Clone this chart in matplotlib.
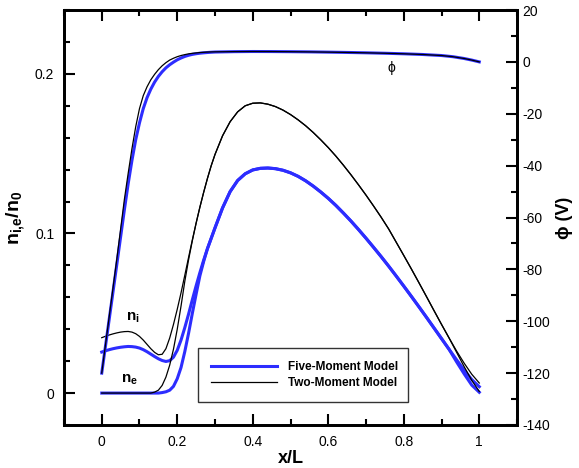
import numpy as np
import matplotlib
matplotlib.use("Agg")
import matplotlib.pyplot as plt
from matplotlib.ticker import MultipleLocator, FuncFormatter

plt.rcParams['font.family'] = ['Liberation Sans', 'DejaVu Sans']
plt.rcParams['mathtext.fontset'] = 'custom'
plt.rcParams['mathtext.rm'] = 'Liberation Sans'
plt.rcParams['mathtext.bf'] = 'Liberation Sans:bold'
plt.rcParams['axes.unicode_minus'] = False

# densita' (asse sinistro)
x_n = [0.00, 0.01, 0.02, 0.03, 0.04, 0.05, 0.06, 0.07, 0.08, 0.09,
       0.10, 0.11, 0.12, 0.13, 0.14, 0.15, 0.16, 0.17, 0.18, 0.19,
       0.20, 0.21, 0.22, 0.23, 0.24, 0.25, 0.26, 0.27, 0.28, 0.29,
       0.30, 0.32, 0.34, 0.36, 0.38, 0.40, 0.42, 0.44, 0.46, 0.48,
       0.50, 0.52, 0.54, 0.56, 0.58, 0.60, 0.62, 0.64, 0.66, 0.68,
       0.70, 0.72, 0.74, 0.76, 0.78, 0.80, 0.82, 0.84, 0.86, 0.88,
       0.90, 0.92, 0.94, 0.96, 0.98, 1.00]

ni_two = [0.0347, 0.0356, 0.0364, 0.0371, 0.0377, 0.0382, 0.0385, 0.0386, 0.0382, 0.0372,
          0.0355, 0.0332, 0.0305, 0.0278, 0.0255, 0.0240, 0.0243, 0.0278, 0.0345, 0.0430,
          0.0525, 0.0628, 0.0738, 0.0850, 0.0960, 0.1065, 0.1165, 0.1258, 0.1345, 0.1425,
          0.1495, 0.1612, 0.1700, 0.1762, 0.1800, 0.1816, 0.1818, 0.1810, 0.1795, 0.1773,
          0.1745, 0.1712, 0.1675, 0.1633, 0.1587, 0.1538, 0.1485, 0.1428, 0.1368, 0.1305,
          0.1240, 0.1172, 0.1102, 0.1028, 0.0945, 0.0862, 0.0778, 0.0692, 0.0605, 0.0517,
          0.0430, 0.0345, 0.0263, 0.0187, 0.0118, 0.0063]
ne_two = [0, 0, 0, 0, 0, 0, 0, 0, 0, 0,
          0, 0, 0, 0, 0.0006, 0.0018, 0.0048, 0.0100, 0.0175, 0.0275,
          0.0400, 0.0545, 0.0700, 0.0835, 0.0955, 0.1065, 0.1165, 0.1258, 0.1345, 0.1425,
          0.1495, 0.1612, 0.1700, 0.1762, 0.1800, 0.1816, 0.1818, 0.1810, 0.1795, 0.1773,
          0.1745, 0.1712, 0.1675, 0.1633, 0.1587, 0.1538, 0.1485, 0.1428, 0.1368, 0.1305,
          0.1240, 0.1172, 0.1102, 0.1028, 0.0945, 0.0862, 0.0778, 0.0692, 0.0605, 0.0517,
          0.0430, 0.0345, 0.0255, 0.0165, 0.0080, 0.0010]

ni_five = [0.0257, 0.0265, 0.0272, 0.0278, 0.0283, 0.0287, 0.0290, 0.0292, 0.0291, 0.0288,
           0.0282, 0.0272, 0.0259, 0.0244, 0.0229, 0.0215, 0.0204, 0.0198, 0.0203, 0.0225,
           0.0268, 0.0332, 0.0410, 0.0495, 0.0585, 0.0672, 0.0755, 0.0833, 0.0905, 0.0970,
           0.1035, 0.1160, 0.1262, 0.1332, 0.1374, 0.1398, 0.1408, 0.1410, 0.1406, 0.1396,
           0.1380, 0.1358, 0.1330, 0.1297, 0.1260, 0.1220, 0.1176, 0.1128, 0.1078, 0.1025,
           0.0970, 0.0913, 0.0855, 0.0795, 0.0733, 0.0670, 0.0606, 0.0541, 0.0475, 0.0408,
           0.0341, 0.0274, 0.0208, 0.0144, 0.0085, 0.0040]
ne_five = [0, 0, 0, 0, 0, 0, 0, 0, 0, 0,
           0, 0, 0, 0, 0, 0, 0.0003, 0.0008, 0.0018, 0.0042,
           0.0090, 0.0160, 0.0260, 0.0375, 0.0500, 0.0620, 0.0735, 0.0825, 0.0905, 0.0970,
           0.1035, 0.1160, 0.1262, 0.1332, 0.1374, 0.1398, 0.1408, 0.1410, 0.1406, 0.1396,
           0.1380, 0.1358, 0.1330, 0.1297, 0.1260, 0.1220, 0.1176, 0.1128, 0.1078, 0.1025,
           0.0970, 0.0913, 0.0855, 0.0795, 0.0733, 0.0670, 0.0606, 0.0541, 0.0475, 0.0408,
           0.0341, 0.0274, 0.0195, 0.0120, 0.0050, 0.0005]

# potenziale (asse destro)
x_phi = [0.00, 0.01, 0.02, 0.03, 0.04, 0.05, 0.06, 0.07, 0.08, 0.09,
         0.10, 0.11, 0.12, 0.13, 0.14, 0.15, 0.16, 0.17, 0.18, 0.19,
         0.20, 0.21, 0.22, 0.23, 0.24, 0.25, 0.26, 0.27, 0.28, 0.29,
         0.30, 0.35, 0.40, 0.45, 0.50, 0.55, 0.60, 0.65, 0.70, 0.75,
         0.80, 0.85, 0.90, 0.93, 0.96, 0.98, 1.00]
phi_two = [-120, -109, -98, -87, -76, -64.5, -53, -43, -33.5, -25,
           -18.0, -13.0, -9.6, -6.9, -4.8, -3.0, -1.5, -0.3, 0.7, 1.4,
           2.0, 2.45, 2.8, 3.1, 3.3, 3.45, 3.6, 3.7, 3.78, 3.84,
           3.88, 3.96, 4.0, 3.98, 3.93, 3.86, 3.76, 3.64, 3.5, 3.33,
           3.12, 2.85, 2.45, 2.0, 1.3, 0.7, 0.0]
phi_five = [-120, -109.5, -99, -88.5, -78, -67.5, -57, -47, -38, -30,
            -23.5, -18.0, -13.8, -10.5, -7.8, -5.6, -3.8, -2.3, -1.1, -0.1,
            0.8, 1.5, 2.1, 2.55, 2.9, 3.15, 3.35, 3.5, 3.62, 3.72,
            3.8, 3.94, 4.0, 3.98, 3.93, 3.86, 3.76, 3.64, 3.5, 3.33,
            3.12, 2.85, 2.45, 2.0, 1.3, 0.7, 0.0]

blue = '#2d2dff'

fig = plt.figure(figsize=(5.79, 4.68), dpi=100)
ax = fig.add_axes([0.1105, 0.0919, 0.7825, 0.8867])
ax2 = ax.twinx()

l5, = ax.plot(x_n, ni_five, color=blue, lw=2.2, label='Five-Moment Model')
ax.plot(x_n, ne_five, color=blue, lw=2.2)
l2, = ax.plot(x_n, ni_two, color='black', lw=0.9, label='Two-Moment Model')
ax.plot(x_n, ne_two, color='black', lw=0.9)

ax2.plot(x_phi, phi_five, color=blue, lw=2.2)
ax2.plot(x_phi, phi_two, color='black', lw=0.9)

ax.set_xlim(-0.1, 1.1)
ax.set_ylim(-0.02, 0.24)
ax2.set_ylim(-140, 20)

fmt = FuncFormatter(lambda v, p: '%g' % round(v, 6))
ax.xaxis.set_major_locator(MultipleLocator(0.2))
ax.xaxis.set_minor_locator(MultipleLocator(0.1))
ax.yaxis.set_major_locator(MultipleLocator(0.1))
ax.yaxis.set_minor_locator(MultipleLocator(0.02))
ax.xaxis.set_major_formatter(fmt)
ax.yaxis.set_major_formatter(fmt)
ax2.yaxis.set_major_locator(MultipleLocator(20))
ax2.yaxis.set_minor_locator(MultipleLocator(10))
ax2.yaxis.set_major_formatter(fmt)

ax.tick_params(axis='both', which='major', direction='in', length=8, width=1.5,
               labelsize=10, pad=7)
ax.tick_params(axis='both', which='minor', direction='in', length=4.5, width=1.5)
ax.tick_params(axis='x', which='both', top=True)
ax.tick_params(axis='y', which='both', right=False)
ax2.tick_params(axis='y', which='major', direction='in', length=8, width=1.5,
                labelsize=10, pad=4)
ax2.tick_params(axis='y', which='minor', direction='in', length=4.5, width=1.5)

for a in (ax, ax2):
    for s in a.spines.values():
        s.set_linewidth(2)

ax.set_xlabel('x/L', fontsize=13, fontweight='bold', labelpad=1)
ax.set_ylabel(r'$\mathbf{n_{i{,}e}/n_0}$', fontsize=14, labelpad=6)
ax2.set_ylabel('\u03d5 (V)', fontsize=13, fontweight='bold', labelpad=4)

ax.text(0.083, 0.047, r'$\mathbf{n_i}$', fontsize=11, ha='center', va='center')
ax.text(0.073, 0.0084, r'$\mathbf{n_e}$', fontsize=11, ha='center', va='center')
ax2.text(0.767, -2.4, '\u03d5', fontsize=10, ha='center', va='center')

leg = ax.legend(handles=[l5, l2], loc='lower left',
                bbox_to_anchor=(0.296, 0.055, 0.463, 0.142), mode='expand',
                prop={'weight': 'bold', 'size': 8.5}, frameon=True, fancybox=False,
                edgecolor='black', handlelength=5.6, handletextpad=0.9,
                labelspacing=0.35, borderaxespad=0, borderpad=1.1)
leg.get_frame().set_linewidth(1)

fig.savefig('out.png', dpi=100)
